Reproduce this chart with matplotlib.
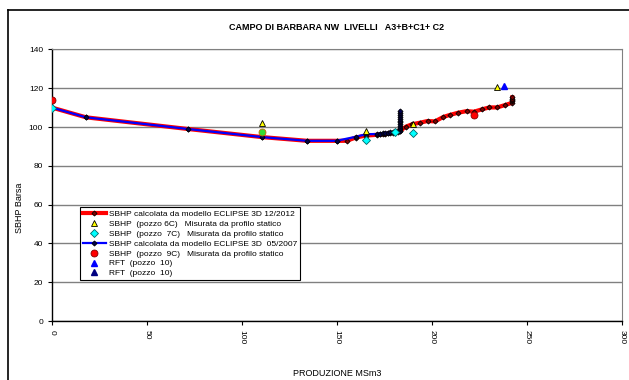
import matplotlib
matplotlib.use("Agg")
import matplotlib.pyplot as plt
from matplotlib.lines import Line2D

plt.rcParams["font.family"] = ["Liberation Sans Narrow", "Liberation Sans", "DejaVu Sans"]

# modello ECLIPSE 3D 12/2012
red_x = [0, 17.9, 71.4, 110.7, 134.3, 149.8, 155.1, 160, 165.3, 171.2, 172.6, 174.4,
         175.4, 177, 177.9, 179.6, 180.5, 181.9, 183.2, 186.3, 189.5, 193.6, 197.7,
         201.6, 206, 209.7, 213.9, 218.3, 222.1, 226.3, 230.2, 234.4, 238.4, 242.3,
         242.3, 242.3, 242.3, 242.3]
red_y = [110, 105, 99, 94.8, 92.9, 92.9, 92.9, 94.6, 95.6, 96, 96.2, 96.2,
         96.4, 96.7, 96.7, 97.1, 97.3, 97.6, 98, 100.2, 101.4, 102.2, 103.1,
         102.9, 105.2, 106.3, 107.4, 108.2, 107.9, 109.1, 110.1, 110.1, 111.3, 112.5,
         113.3, 114, 114.6, 115.3]

# modello ECLIPSE 3D 05/2007
blue_x = [0, 17.9, 71.4, 110.7, 134.3, 149.8, 160, 165.3, 171.2, 172.6, 174.4, 175.4,
          177, 177.9, 179.6, 180.5, 181.9, 183.2, 183.2, 183.2, 183.2, 183.2, 183.2,
          183.2, 183.2, 183.2, 183.2, 183.2, 183.2]
blue_y = [110, 105, 99, 94.8, 92.9, 92.9, 95, 96.3, 96.4, 96.6, 96.8, 97,
          97.1, 97.3, 97.5, 97.6, 97.8, 97.9, 98.8, 99.7, 100.6, 101.5, 102.4,
          103.3, 104.2, 105.1, 106, 107.2, 108.4]

p6c_x = [110.7, 165.3, 190.2, 234]
p6c_y = [101.9, 98.1, 101.4, 120.5]
p7c_x = [0, 165.3, 180.5, 190.2]
p7c_y = [109.6, 93.3, 97.6, 97.1]
p9c_x = [0, 222.1]
p9c_y = [113.8, 106.2]
green_x = [110.7]
green_y = [97.6]
rft_x = [238]
rft_y = [121.3]
rft2_x = []
rft2_y = []

fig = plt.figure(figsize=(6.29, 3.80), dpi=100)
ax = fig.add_axes([0.0827, 0.155, 0.906, 0.715])

ax.plot(red_x, red_y, color="red", lw=3.0, marker="D", ms=2.6, mfc="#800000",
        mec="black", mew=0.6, zorder=3,
        label="SBHP calcolata da modello ECLIPSE 3D 12/2012")
ax.plot(p6c_x, p6c_y, ls="none", marker="^", ms=5, mfc="yellow", mec="black",
        mew=0.6, zorder=5,
        label="SBHP  (pozzo 6C)   Misurata da profilo statico")
ax.plot(p7c_x, p7c_y, ls="none", marker="D", ms=4, mfc="cyan", mec="#006666",
        mew=0.6, zorder=5,
        label="SBHP  (pozzo  7C)   Misurata da profilo statico")
ax.plot(blue_x, blue_y, color="blue", lw=1.6, marker="D", ms=2.6, mfc="#000050",
        mec="black", mew=0.6, zorder=4,
        label="SBHP calcolata da modello ECLIPSE 3D  05/2007")
ax.plot(p9c_x, p9c_y, ls="none", marker="o", ms=5, mfc="red", mec="#800000",
        mew=0.6, zorder=5,
        label="SBHP  (pozzo  9C)   Misurata da profilo statico")
ax.plot(rft_x, rft_y, ls="none", marker="^", ms=5, mfc="blue", mec="blue",
        zorder=5, label="RFT  (pozzo  10)")
ax.plot(rft2_x, rft2_y, ls="none", marker="^", ms=5, mfc="#000080", mec="#000080",
        zorder=5, label="RFT  (pozzo  10)")
ax.plot(green_x, green_y, ls="none", marker="o", ms=5, mfc="#33dd33", mec="#cc6600",
        mew=0.6, zorder=6)

ax.set_xlim(0, 300)
ax.set_ylim(0, 140)
ax.set_xticks(range(0, 301, 50))
ax.set_yticks(range(0, 141, 20))
ax.tick_params(axis="x", labelrotation=-90, labelsize=6, length=3, width=0.8)
ax.tick_params(axis="y", labelsize=6, length=3, width=0.8)
ax.grid(axis="y", color="#808080", lw=1.0)
ax.set_axisbelow(True)
for side in ["top", "right"]:
    ax.spines[side].set_color("#808080")
ax.spines["left"].set_linewidth(1.0)
ax.spines["bottom"].set_linewidth(1.0)

ax.set_xlabel("PRODUZIONE MSm3", fontsize=6.5)
ax.set_ylabel("SBHP Barsa", fontsize=6.5)
ax.xaxis.set_label_coords(0.5, -0.175)
ax.yaxis.set_label_coords(-0.049, 0.416)

ax.set_title("CAMPO DI BARBARA NW  LIVELLI   A3+B+C1+ C2", fontsize=6.5,
             fontweight="bold", pad=14)

leg = ax.legend(loc="upper left", bbox_to_anchor=(0.127, 0.455), bbox_transform=fig.transFigure,
                fontsize=6, frameon=True, fancybox=False, edgecolor="black",
                framealpha=1, handlelength=2.8, handletextpad=0.3, labelspacing=0.25,
                borderpad=0.35, borderaxespad=0)
leg.get_frame().set_linewidth(0.8)

# cornice esterna del grafico
fig.add_artist(Line2D([8 / 629, 1], [1 - 10 / 380, 1 - 10 / 380], color="black", lw=1.2,
                      transform=fig.transFigure))
fig.add_artist(Line2D([8 / 629, 8 / 629], [0, 1 - 10 / 380], color="black", lw=1.2,
                      transform=fig.transFigure))

fig.savefig("out.png", dpi=100)
